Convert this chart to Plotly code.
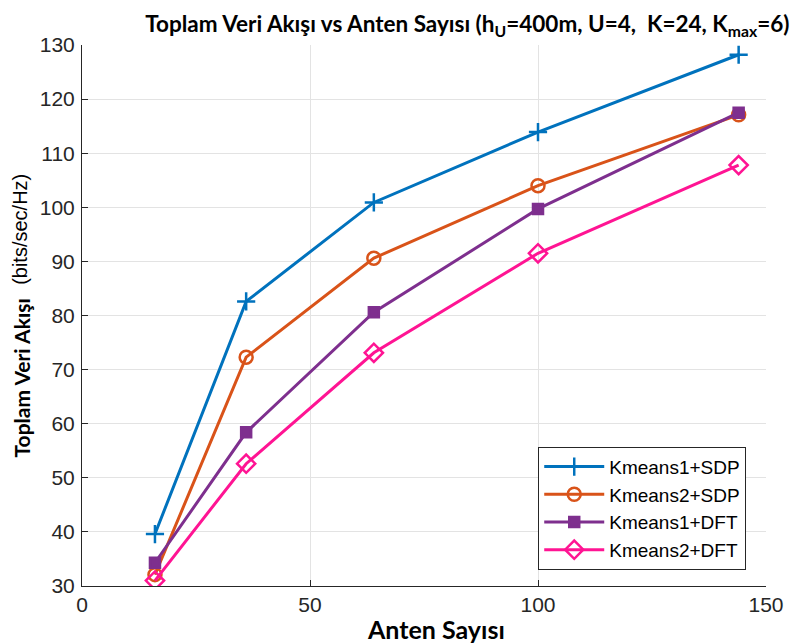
import plotly.graph_objects as go

# Number of antennas
antennas = [16, 36, 64, 100, 144]

# Sum rate (bits/sec/Hz) per clustering + beamforming scheme
kmeans1_sdp = [39.6, 82.6, 100.9, 113.9, 128.2]
kmeans2_sdp = [32.1, 72.3, 90.6, 104.0, 117.1]
kmeans1_dft = [34.3, 58.4, 80.6, 99.7, 117.5]
kmeans2_dft = [31.0, 52.6, 73.1, 91.5, 107.8]

series_names = ["Kmeans1+SDP", "Kmeans2+SDP", "Kmeans1+DFT", "Kmeans2+DFT"]
series_vals = [kmeans1_sdp, kmeans2_sdp, kmeans1_dft, kmeans2_dft]
colors = ["#0072BD", "#D95319", "#7E2F8E", "#FF1493"]
symbols = ["cross-thin", "circle-open", "square", "diamond-open"]
sizes = [13, 13, 10, 14]

heading = "Lato, Carlito, Calibri, sans-serif"

fig = go.Figure()
for name, vals, c, s, sz in zip(series_names, series_vals, colors, symbols, sizes):
    fig.add_trace(go.Scatter(
        x=antennas, y=vals, name=name, mode="lines+markers",
        line=dict(color=c, width=3),
        marker=dict(symbol=s, size=sz, color=c, line=dict(color=c, width=2.5)),
    ))

axis_common = dict(
    showgrid=True, gridcolor="#e3e3e3", gridwidth=1,
    showline=True, linecolor="#262626", linewidth=1,
    ticks="inside", ticklen=6, tickcolor="#262626",
    zeroline=False, automargin=False,
    tickfont=dict(size=21, color="#262626"),
)

fig.update_layout(
    width=791, height=644,
    margin=dict(l=82, r=25, t=45, b=58),
    paper_bgcolor="white", plot_bgcolor="white",
    font=dict(family="Arial, Liberation Sans, sans-serif", size=17, color="#262626"),
    title=dict(
        text="<b>Toplam Veri Akışı vs Anten Sayısı (h<sub>U</sub>=400m, U=4,  K=24, K<sub>max</sub>=6)</b>",
        x=0.998, xanchor="right", y=0.975, yanchor="top",
        font=dict(family=heading, size=22.5, color="black"),
    ),
    xaxis=dict(range=[0, 150], tickvals=[0, 50, 100, 150], **axis_common),
    yaxis=dict(range=[30, 130], dtick=10, ticklabelstandoff=2, **axis_common),
    legend=dict(
        x=0.667, y=0.03, xanchor="left", yanchor="bottom",
        bgcolor="white", bordercolor="#262626", borderwidth=1,
        font=dict(size=19, color="black"), itemwidth=60,
        tracegroupgap=0,
    ),
    showlegend=True,
)

# X-axis label
fig.add_annotation(
    text="<b>Anten Sayısı</b>", xref="paper", yref="paper",
    x=0.5, y=0, xanchor="center", yanchor="middle", xshift=12, yshift=-43,
    showarrow=False, font=dict(family=heading, size=25, color="black"),
)

# Y-axis label: bold quantity name, then the unit in regular weight above it
fig.add_annotation(
    text="<b>Toplam Veri Akışı</b>", xref="paper", yref="paper",
    x=0, y=0.233, xanchor="center", yanchor="bottom", xshift=-61,
    textangle=-90, showarrow=False,
    font=dict(family=heading, size=21, color="black"),
)
fig.add_annotation(
    text="(bits/sec/Hz)", xref="paper", yref="paper",
    x=0, y=0.552, xanchor="center", yanchor="bottom", xshift=-62,
    textangle=-90, showarrow=False,
    font=dict(family="Arial, Liberation Sans, sans-serif", size=20, color="black"),
)

fig.write_html("out.html")
